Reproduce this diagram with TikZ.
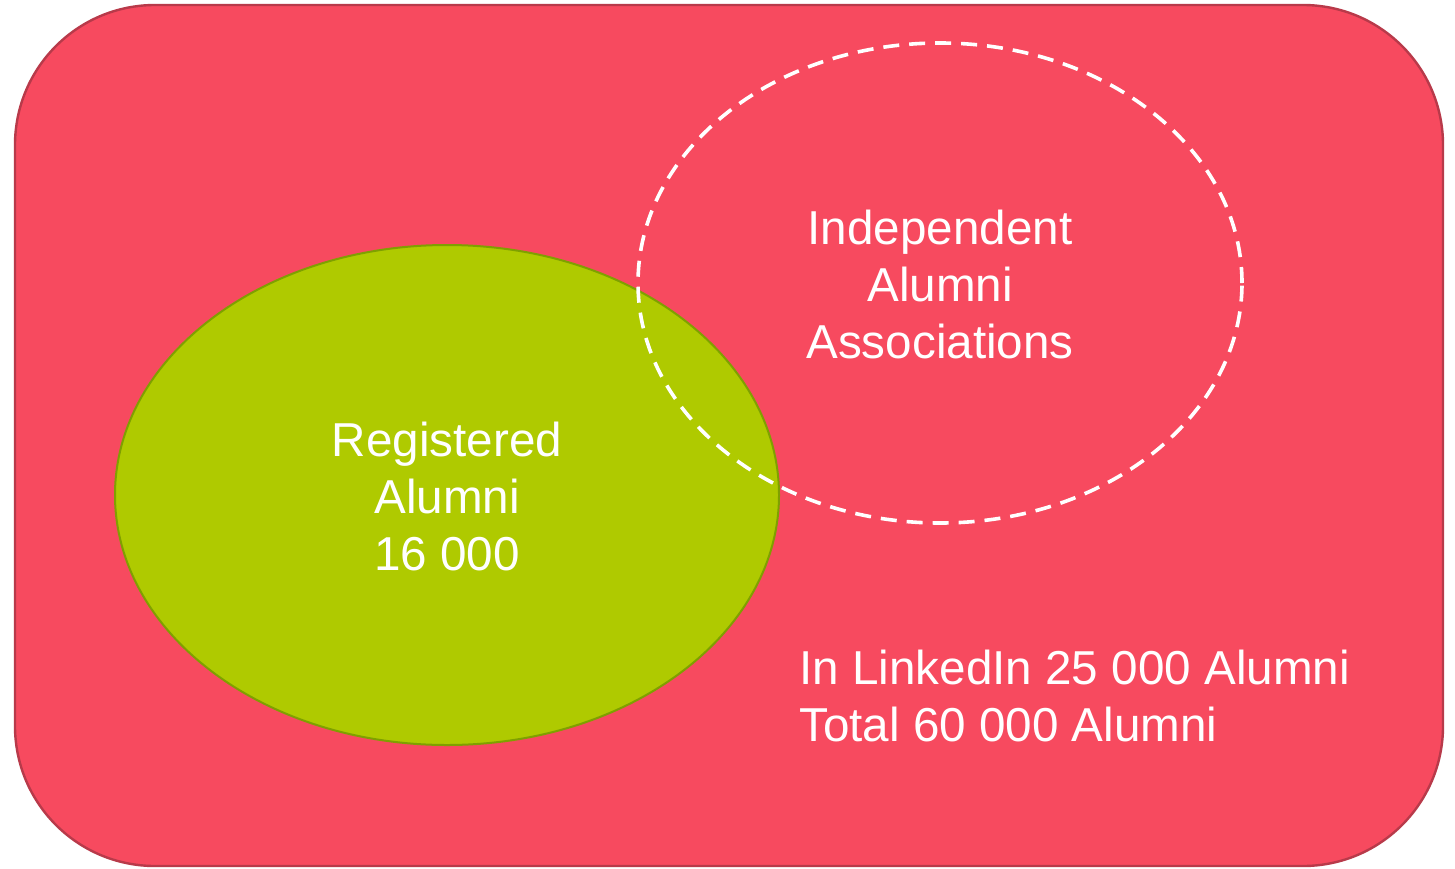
\documentclass[tikz,border=0pt]{standalone}
\usepackage{fontspec}
\setmainfont{Liberation Sans}
\usepackage{tikz}
\usetikzlibrary{shapes.geometric}
\definecolor{alured}{HTML}{F74A5F}
\definecolor{aluredline}{HTML}{B83A4A}
\definecolor{alugreen}{HTML}{AFCA00}
\definecolor{alugreenline}{HTML}{7FA000}

\begin{document}
\begin{tikzpicture}[x=0.5pt,y=-0.5pt,
    txt/.style={text=white,font=\fontsize{23.8}{28.5}\selectfont,align=center,inner sep=0pt},
    set/.style={ellipse,inner sep=0pt}]
        \useasboundingbox (0,0) rectangle (1455,868);
        \node[draw=aluredline,line width=1.2pt,fill=alured,rounded corners=70pt,
              minimum width=714pt,minimum height=430.5pt] (All) at (729,435.5) {};
        \node[set,draw=alugreenline,line width=1pt,fill=alugreen,
              minimum width=332pt,minimum height=250pt] (Reg) at (447,495) {};
        \node[set,draw=white,line width=1.8pt,dash pattern=on 8pt off 5pt,
              minimum width=302pt,minimum height=240pt] (Ind) at (940,283) {};
        \node[txt] (RegT) at (447,496) {Registered\\Alumni\\16 000};
        \node[txt] (IndT) at (940,284) {Independent\\Alumni\\Associations};
        \node[txt,align=left,anchor=west] (Tot) at (799,696) {In LinkedIn 25 000 Alumni\\Total 60 000 Alumni};
    \end{tikzpicture}
\end{document}
